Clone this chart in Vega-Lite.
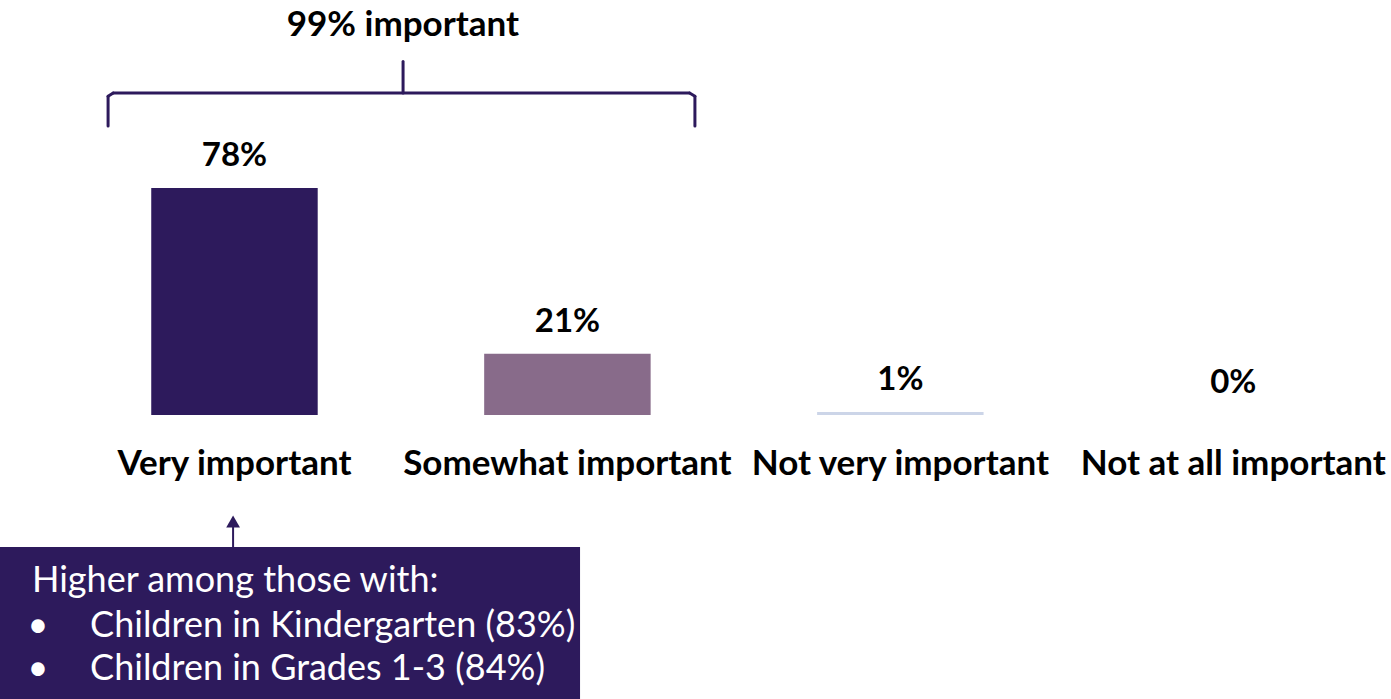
{
  "$schema": "https://vega.github.io/schema/vega-lite/v6.json",
  "width": 1391,
  "height": 699,
  "autosize": {"type": "fit", "contains": "padding"},
  "padding": 0,
  "background": "white",
  "config": {"view": {"stroke": null}, "font": "Lato"},
  "datasets": {
    "responses": [
      {"answer": "Very important", "share": 0.78},
      {"answer": "Somewhat important", "share": 0.21},
      {"answer": "Not very important", "share": 0.01},
      {"answer": "Not at all important", "share": 0.0}
    ]
  },
  "layer": [
    {
      "data": {"name": "responses"},
      "encoding": {
        "x": {"field": "answer", "type": "nominal", "sort": null, "axis": null,
              "scale": {"paddingInner": 0.5, "paddingOuter": 0.339, "align": 0.67}}
      },
      "layer": [
        {
          "mark": {"type": "bar"},
          "encoding": {
            "y": {"field": "share", "type": "quantitative", "axis": null,
                  "scale": {"domain": [-0.976, 1.426], "nice": false, "zero": false}},
            "y2": {"datum": 0},
            "color": {"field": "answer", "type": "nominal", "legend": null,
                      "scale": {"domain": ["Very important", "Somewhat important", "Not very important", "Not at all important"],
                                "range": ["#2D1A5C", "#886B8A", "#CCD5E8", "#DDE3F0"]}}
          }
        },
        {
          "mark": {"type": "text", "fontWeight": "bold", "fontSize": 33, "baseline": "middle", "dy": -32, "color": "#000000"},
          "encoding": {
            "y": {"field": "share", "type": "quantitative", "axis": null},
            "text": {"field": "share", "type": "quantitative", "format": ".0%"}
          }
        },
        {
          "mark": {"type": "text", "fontWeight": "bold", "fontSize": 35, "baseline": "middle", "color": "#000000"},
          "encoding": {
            "y": {"datum": -0.168},
            "text": {"field": "answer", "type": "nominal"}
          }
        }
      ]
    },
    {
      "data": {"values": [{}]},
      "layer": [
        {
          "mark": {"type": "text", "fontWeight": "bold", "fontSize": 35, "baseline": "middle", "color": "#000000", "text": "99% important"},
          "encoding": {
            "x": {"datum": 1.507, "type": "quantitative", "axis": null, "scale": {"domain": [0.297, 4.4745], "nice": false, "zero": false}},
            "y": {"datum": 1.34}
          }
        },
        {
          "mark": {"type": "rule", "color": "#2D1A5C", "strokeWidth": 3, "strokeCap": "round"},
          "encoding": {
            "x": {"datum": 0.6216, "type": "quantitative"},
            "y": {"datum": 0.993},
            "y2": {"datum": 1.095}
          }
        },
        {
          "mark": {"type": "rule", "color": "#2D1A5C", "strokeWidth": 3, "strokeCap": "round"},
          "encoding": {
            "x": {"datum": 2.384, "type": "quantitative"},
            "y": {"datum": 0.993},
            "y2": {"datum": 1.095}
          }
        },
        {
          "mark": {"type": "rule", "color": "#2D1A5C", "strokeWidth": 3, "strokeCap": "round"},
          "encoding": {
            "x": {"datum": 0.637, "type": "quantitative"},
            "x2": {"datum": 2.368},
            "y": {"datum": 1.1065}
          }
        },
        {
          "mark": {"type": "rule", "color": "#2D1A5C", "strokeWidth": 3, "strokeCap": "round"},
          "encoding": {
            "x": {"datum": 0.6216, "type": "quantitative"},
            "x2": {"datum": 0.637},
            "y": {"datum": 1.095},
            "y2": {"datum": 1.1065}
          }
        },
        {
          "mark": {"type": "rule", "color": "#2D1A5C", "strokeWidth": 3, "strokeCap": "round"},
          "encoding": {
            "x": {"datum": 2.384, "type": "quantitative"},
            "x2": {"datum": 2.368},
            "y": {"datum": 1.095},
            "y2": {"datum": 1.1065}
          }
        },
        {
          "mark": {"type": "rule", "color": "#2D1A5C", "strokeWidth": 3, "strokeCap": "round"},
          "encoding": {
            "x": {"datum": 1.5075, "type": "quantitative"},
            "y": {"datum": 1.1065},
            "y2": {"datum": 1.215}
          }
        },
        {
          "mark": {"type": "rect", "color": "#2D1A5C"},
          "encoding": {
            "x": {"datum": 0.297, "type": "quantitative"},
            "x2": {"datum": 2.039},
            "y": {"datum": -0.454},
            "y2": {"datum": -0.976}
          }
        },
        {
          "mark": {"type": "rule", "color": "#2D1A5C", "strokeWidth": 2},
          "encoding": {
            "x": {"datum": 0.997, "type": "quantitative"},
            "y": {"datum": -0.454},
            "y2": {"datum": -0.375}
          }
        },
        {
          "mark": {"type": "point", "shape": "triangle-up", "filled": true, "size": 190, "color": "#2D1A5C", "opacity": 1},
          "encoding": {
            "x": {"datum": 0.997, "type": "quantitative"},
            "y": {"datum": -0.366}
          }
        },
        {
          "mark": {"type": "text", "fontSize": 36, "align": "left", "baseline": "middle", "color": "#FFFFFF", "text": "Higher among those with:"},
          "encoding": {
            "x": {"datum": 0.393, "type": "quantitative"},
            "y": {"datum": -0.572}
          }
        },
        {
          "mark": {"type": "text", "fontSize": 36, "align": "center", "baseline": "middle", "color": "#FFFFFF", "text": "•"},
          "encoding": {
            "x": {"datum": 0.411, "type": "quantitative"},
            "y": {"datum": -0.726}
          }
        },
        {
          "mark": {"type": "text", "fontSize": 36, "align": "left", "baseline": "middle", "color": "#FFFFFF", "text": "Children in Kindergarten (83%)"},
          "encoding": {
            "x": {"datum": 0.5676, "type": "quantitative"},
            "y": {"datum": -0.726}
          }
        },
        {
          "mark": {"type": "text", "fontSize": 36, "align": "center", "baseline": "middle", "color": "#FFFFFF", "text": "•"},
          "encoding": {
            "x": {"datum": 0.411, "type": "quantitative"},
            "y": {"datum": -0.874}
          }
        },
        {
          "mark": {"type": "text", "fontSize": 36, "align": "left", "baseline": "middle", "color": "#FFFFFF", "text": "Children in Grades 1-3 (84%)"},
          "encoding": {
            "x": {"datum": 0.5676, "type": "quantitative"},
            "y": {"datum": -0.874}
          }
        }
      ]
    }
  ],
  "resolve": {"scale": {"x": "independent"}}
}
